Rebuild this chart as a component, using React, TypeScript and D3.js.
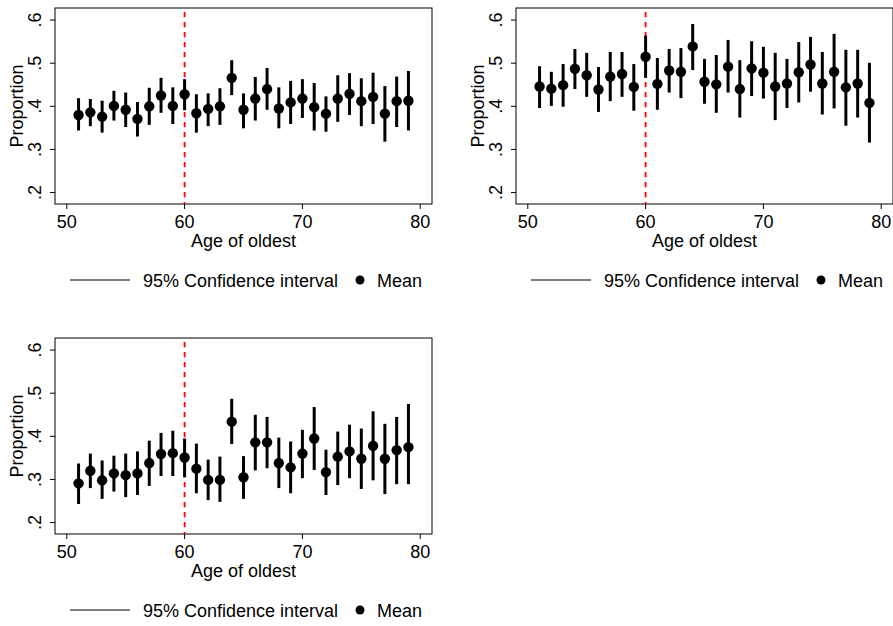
import React from "react";
import * as d3 from "d3";

// Age of the oldest household member (x categories)
const ages = [51,52,53,54,55,56,57,58,59,60,61,62,63,64,65,66,67,68,69,70,71,72,73,74,75,76,77,78,79];

// Panel A
const meanA = [0.380,0.386,0.376,0.401,0.392,0.371,0.400,0.425,0.401,0.428,0.384,0.394,0.400,0.466,0.392,0.418,0.440,0.395,0.409,0.418,0.398,0.383,0.418,0.429,0.412,0.422,0.383,0.412,0.413];
const loA = [0.344,0.354,0.339,0.367,0.352,0.330,0.357,0.385,0.359,0.391,0.339,0.354,0.357,0.426,0.349,0.367,0.392,0.349,0.359,0.373,0.344,0.341,0.364,0.380,0.354,0.359,0.318,0.352,0.344];
const hiA = [0.419,0.417,0.413,0.436,0.432,0.410,0.443,0.466,0.444,0.463,0.428,0.430,0.442,0.507,0.430,0.468,0.489,0.444,0.459,0.463,0.454,0.423,0.472,0.477,0.465,0.478,0.447,0.469,0.482];

// Panel B
const meanB = [0.446,0.441,0.449,0.487,0.472,0.439,0.469,0.475,0.445,0.515,0.452,0.483,0.480,0.539,0.457,0.451,0.492,0.440,0.488,0.478,0.446,0.453,0.479,0.497,0.453,0.480,0.444,0.453,0.408];
const loB = [0.396,0.401,0.399,0.440,0.422,0.387,0.412,0.422,0.390,0.466,0.392,0.432,0.419,0.484,0.406,0.385,0.432,0.374,0.424,0.418,0.368,0.396,0.409,0.434,0.381,0.395,0.355,0.374,0.316];
const hiB = [0.493,0.480,0.498,0.533,0.524,0.491,0.526,0.526,0.498,0.564,0.512,0.533,0.535,0.591,0.510,0.519,0.554,0.507,0.551,0.538,0.524,0.510,0.549,0.561,0.526,0.568,0.531,0.531,0.501];

// Panel C
const meanC = [0.291,0.320,0.298,0.314,0.310,0.314,0.338,0.359,0.361,0.351,0.325,0.299,0.299,0.434,0.305,0.386,0.386,0.338,0.328,0.360,0.395,0.317,0.353,0.365,0.348,0.378,0.348,0.368,0.375];
const loC = [0.243,0.280,0.255,0.272,0.259,0.264,0.285,0.308,0.308,0.305,0.268,0.252,0.248,0.382,0.255,0.321,0.326,0.280,0.268,0.303,0.322,0.264,0.287,0.303,0.278,0.298,0.266,0.289,0.289];
const hiC = [0.337,0.360,0.344,0.355,0.360,0.365,0.390,0.408,0.413,0.395,0.383,0.346,0.353,0.487,0.354,0.450,0.445,0.397,0.388,0.415,0.468,0.369,0.411,0.427,0.418,0.458,0.429,0.445,0.475];

const xTicks = [50, 60, 70, 80];
const yTicks = [0.2, 0.3, 0.4, 0.5, 0.6];
const cutoffAge = 60;
const xTitle = "Age of oldest";
const yTitle = "Proportion";
const ciLabel = "95% Confidence interval";
const meanLabel = "Mean";

const FONT = "'Liberation Sans', Arial, Helvetica, sans-serif";
const FS = 18;

// plot box inside each panel
const L = 55, R = 432, T = 8, B = 204;

type Series = { mean: number[]; lo: number[]; hi: number[] };

function Panel({ dx, dy, s }: { dx: number; dy: number; s: Series }) {
  const x = d3.scaleLinear().domain([49, 81]).range([L, R]);
  const y = d3.scaleLinear().domain([0.1735, 0.628]).range([B, T]);
  const fmt = (v: number) => d3.format(".1f")(v).replace(/^0/, "");
  return (
    <g transform={`translate(${dx},${dy})`}>
      <rect x={L} y={T} width={R - L} height={B - T} fill="white" stroke="black" strokeWidth={1} />
      {/* y axis ticks and labels */}
      {yTicks.map((t) => (
        <g key={t}>
          <line x1={L - 5} x2={L} y1={y(t)} y2={y(t)} stroke="black" strokeWidth={1} />
          <text
            transform={`translate(${L - 14},${y(t)}) rotate(-90)`}
            textAnchor="middle"
            fontFamily={FONT}
            fontSize={FS}
          >
            {fmt(t)}
          </text>
        </g>
      ))}
      {/* x axis ticks and labels */}
      {xTicks.map((t) => (
        <g key={t}>
          <line x1={x(t)} x2={x(t)} y1={B} y2={B + 5} stroke="black" strokeWidth={1} />
          <text x={x(t)} y={B + 24} textAnchor="middle" fontFamily={FONT} fontSize={FS}>
            {t}
          </text>
        </g>
      ))}
      <text x={(L + R) / 2} y={B + 43} textAnchor="middle" fontFamily={FONT} fontSize={FS}>
        {xTitle}
      </text>
      <text
        transform={`translate(23,${(T + B) / 2}) rotate(-90)`}
        textAnchor="middle"
        fontFamily={FONT}
        fontSize={FS}
      >
        {yTitle}
      </text>
      {/* cutoff line, beneath the markers */}
      <line
        x1={x(cutoffAge)}
        x2={x(cutoffAge)}
        y1={T + 4}
        y2={B}
        stroke="#ff0000"
        strokeWidth={1.8}
        strokeDasharray="5.3,4.7"
      />
      {/* confidence intervals */}
      {ages.map((a, i) => (
        <line key={`ci${a}`} x1={x(a)} x2={x(a)} y1={y(s.lo[i])} y2={y(s.hi[i])} stroke="black" strokeWidth={3} />
      ))}
      {/* means */}
      {ages.map((a, i) => (
        <circle key={`m${a}`} cx={x(a)} cy={y(s.mean[i])} r={5.2} fill="black" />
      ))}
      {/* legend */}
      <line x1={70} x2={130} y1={280} y2={280} stroke="black" strokeWidth={1.2} />
      <text x={143} y={287} fontFamily={FONT} fontSize={FS}>
        {ciLabel}
      </text>
      <circle cx={360} cy={280} r={4.5} fill="black" />
      <text x={377} y={287} fontFamily={FONT} fontSize={FS}>
        {meanLabel}
      </text>
    </g>
  );
}

export default function App() {
  const panels: { dx: number; dy: number; s: Series }[] = [
    { dx: 0, dy: 0, s: { mean: meanA, lo: loA, hi: hiA } },
    { dx: 461, dy: 0, s: { mean: meanB, lo: loB, hi: hiB } },
    { dx: 0, dy: 330, s: { mean: meanC, lo: loC, hi: hiC } },
  ];
  return (
    <svg
      width={893}
      height={626}
      style={{ position: "absolute", left: 0, top: 0, background: "white" }}
    >
      <rect x={0} y={0} width={893} height={626} fill="white" />
      {panels.map((p, i) => (
        <Panel key={i} dx={p.dx} dy={p.dy} s={p.s} />
      ))}
    </svg>
  );
}
